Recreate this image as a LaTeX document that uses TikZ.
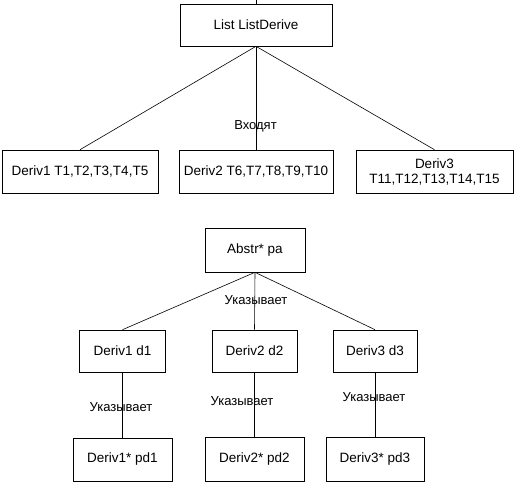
\documentclass[tikz,border=0pt]{standalone}
\usepackage{fontspec}
\setmainfont{Liberation Sans}
\begin{document}
\begin{tikzpicture}[x=1pt,y=-1pt,
  box/.style={draw=black,line width=0.6pt,rectangle,inner sep=0pt,align=center,font=\fontsize{13.5}{15}\selectfont},
  conn/.style={draw=black,line width=0.6pt},
  lab/.style={inner sep=0pt,font=\fontsize{13}{15}\selectfont}]
\useasboundingbox (0,0) rectangle (516,484);
\node[box,minimum width=152pt,minimum height=42pt] (list) at (256,25) {List ListDerive};
\node[box,minimum width=156pt,minimum height=43pt] (D1) at (80,171.5) {Deriv1 T1,T2,T3,T4,T5};
\node[box,minimum width=154pt,minimum height=43pt] (D2) at (256,171.5) {Deriv2 T6,T7,T8,T9,T10};
\node[box,minimum width=157pt,minimum height=43pt] (D3) at (434.5,171.5) {Deriv3\\T11,T12,T13,T14,T15};
\node[box,minimum width=100pt,minimum height=44pt] (abs) at (255,250) {Abstr* pa};
\node[box,minimum width=86pt,minimum height=42pt] (d1) at (122.5,351) {Deriv1 d1};
\node[box,minimum width=85pt,minimum height=42pt] (d2) at (254.5,351) {Deriv2 d2};
\node[box,minimum width=84pt,minimum height=42pt] (d3) at (375,351) {Deriv3 d3};
\node[box,minimum width=99pt,minimum height=43pt] (pd1) at (122.5,459.5) {Deriv1* pd1};
\node[box,minimum width=99pt,minimum height=44pt] (pd2) at (254.5,459) {Deriv2* pd2};
\node[box,minimum width=98pt,minimum height=44pt] (pd3) at (375,459) {Deriv3* pd3};
\coordinate (top) at (256,0);
\draw[conn] (top) -- (list.north);
\draw[conn] (list.south) -- (D1.north);
\draw[conn] (list.south) -- (D2.north);
\draw[conn] (list.south) -- (D3.north);
\draw[conn] (abs.south) -- (d1.north);
\draw[conn] (abs.south) -- (d2.north);
\draw[conn] (abs.south) -- (d3.north);
\draw[conn] (d1.south) -- (pd1.north);
\draw[conn] (d2.south) -- (pd2.north);
\draw[conn] (d3.south) -- (pd3.north);
\node[lab] (l0) at (255.5,126) {Входят};
\node[lab] (l1) at (256,300) {Указывает};
\node[lab] (l2) at (121,407) {Указывает};
\node[lab] (l3) at (242,401) {Указывает};
\node[lab] (l4) at (374,397) {Указывает};
\end{tikzpicture}
\end{document}
